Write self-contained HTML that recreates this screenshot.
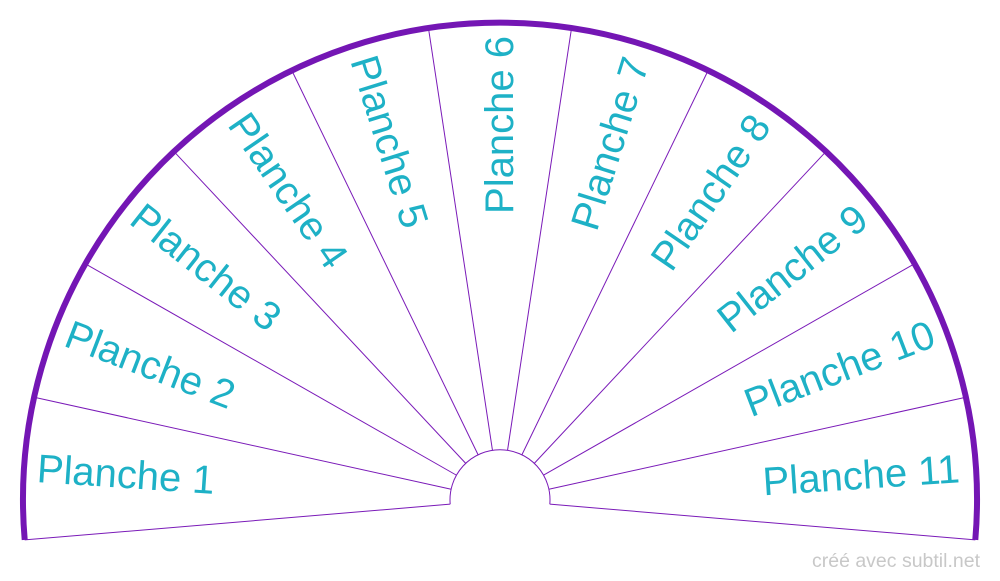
<!DOCTYPE html>
<html><head><meta charset="utf-8"><style>
html,body{margin:0;padding:0;background:#fff;width:1000px;height:581px;overflow:hidden}
svg{display:block}
text{font-family:"Liberation Sans",sans-serif}
</style></head><body>
<svg width="1000" height="581" viewBox="0 0 1000 581" xmlns="http://www.w3.org/2000/svg">
<g stroke="#7a1ab8" stroke-width="1" fill="none">
<g transform="translate(500 500)">
<line x1="-50" y1="0" x2="-477" y2="0" transform="rotate(-4.8)"/>
<line x1="-50" y1="0" x2="-477" y2="0" transform="rotate(12.44)"/>
<line x1="-50" y1="0" x2="-477" y2="0" transform="rotate(29.67)"/>
<line x1="-50" y1="0" x2="-477" y2="0" transform="rotate(46.91)"/>
<line x1="-50" y1="0" x2="-477" y2="0" transform="rotate(64.14)"/>
<line x1="-50" y1="0" x2="-477" y2="0" transform="rotate(81.38)"/>
<line x1="-50" y1="0" x2="-477" y2="0" transform="rotate(98.62)"/>
<line x1="-50" y1="0" x2="-477" y2="0" transform="rotate(115.85)"/>
<line x1="-50" y1="0" x2="-477" y2="0" transform="rotate(133.09)"/>
<line x1="-50" y1="0" x2="-477" y2="0" transform="rotate(150.32)"/>
<line x1="-50" y1="0" x2="-477" y2="0" transform="rotate(167.56)"/>
<line x1="-50" y1="0" x2="-477" y2="0" transform="rotate(184.8)"/>
</g>
<path d="M450.2 504.2 A50 50 0 1 1 549.8 504.2"/>
<path d="M24.7 539.9 A477 477 0 1 1 975.3 539.9" stroke-width="6" stroke="#7416b4"/>
</g>
<g fill="#1eb1c6" font-size="40" text-anchor="middle" dominant-baseline="central">
<g transform="rotate(3.82 500 500)"><text x="125" y="500">Planche 1</text></g>
<g transform="rotate(21.05 500 500)"><text x="125" y="500">Planche 2</text></g>
<g transform="rotate(38.29 500 500)"><text x="125" y="500">Planche 3</text></g>
<g transform="rotate(55.53 500 500)"><text x="125" y="500">Planche 4</text></g>
<g transform="rotate(72.76 500 500)"><text x="125" y="500">Planche 5</text></g>
<g transform="rotate(-90 500 500)"><text x="875" y="500">Planche 6</text></g>
<g transform="rotate(-72.76 500 500)"><text x="873" y="500">Planche 7</text></g>
<g transform="rotate(-55.53 500 500)"><text x="873" y="500">Planche 8</text></g>
<g transform="rotate(-38.29 500 500)"><text x="873" y="500">Planche 9</text></g>
<g transform="rotate(-21.05 500 500)"><text x="864" y="500">Planche 10</text></g>
<g transform="rotate(-3.82 500 500)"><text x="862" y="500">Planche 11</text></g>
</g>
<text x="980" y="567" font-size="19.5" fill="#c8c8c8" text-anchor="end">créé avec subtil.net</text>
</svg>
</body></html>
